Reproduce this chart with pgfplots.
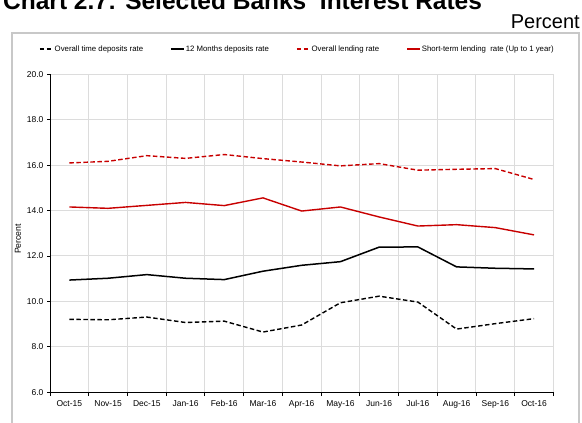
\documentclass[border=0pt]{standalone}
\usepackage{pgfplots}
\pgfplotsset{compat=1.18}
\usepackage{fontspec}
\setmainfont{Liberation Sans}
\definecolor{cbred}{RGB}{200,0,0}
\definecolor{gridgray}{RGB}{220,220,220}
\definecolor{bordergray}{RGB}{200,200,200}
\begin{document}
\begin{tikzpicture}
\path[use as bounding box] (0pt,0pt) rectangle (582pt,423pt);
% title (top cut off, as in the reference)
\node[anchor=base west, inner sep=0pt, font=\fontsize{24.5}{28}\selectfont\bfseries] at (3pt,413pt) {Chart 2.7: Selected Banks' Interest Rates};
\node[anchor=base east, inner sep=0pt, font=\fontsize{20}{24}\selectfont] at (580pt,394pt) {Percent};
% chart area border
\draw[bordergray, line width=1.2pt] (12pt,-5pt) -- (12pt,390pt) -- (579pt,390pt) -- (579pt,-5pt);
% y label
\node[rotate=90, inner sep=0pt, font=\fontsize{8.7}{10}\selectfont] at (18pt,184pt) {Percent};
\begin{axis}[
  at={(50pt,30.8pt)}, anchor=south west,
  scale only axis, width=503.4pt, height=317.8pt,
  xmin=-0.5, xmax=12.5, ymin=6, ymax=20,
  axis lines=left,
  axis line style={-, black, line width=0.8pt},
  xtick={0,...,12},
  xticklabels={Oct-15,Nov-15,Dec-15,Jan-16,Feb-16,Mar-16,Apr-16,May-16,Jun-16,Jul-16,Aug-16,Sep-16,Oct-16},
  major x tick style={draw=none},
  minor xtick={-0.5,0.5,...,12.5},
  minor x tick style={black, line width=0.8pt},
  minor tick length=4pt,
  xminorgrids=true,
  minor x grid style={gridgray, line width=1pt},
  ytick={6,8,...,20},
  ymajorgrids=true,
  major y grid style={gridgray, line width=1pt},
  y tick style={black, line width=0.8pt},
  major tick length=3pt,
  tick align=outside,
  yticklabel style={/pgf/number format/.cd, fixed, fixed zerofill, precision=1},
  /pgf/number format/assume math mode=true,
  ticklabel style={font=\fontsize{8.5}{10}\selectfont},
  xticklabel style={yshift=-2pt},
  legend columns=4,
  legend style={draw=none, fill=none, inner sep=0pt,
    at={(axis description cs:-0.022,1.08)}, anchor=west,
    font=\fontsize{7.8}{10}\selectfont,
    nodes={inner sep=1pt},
    /tikz/every even column/.append style={column sep=26pt}},
  legend image code/.code={\draw[#1, line width=1.6pt] (0pt,0pt) -- (13pt,0pt);},
  clip=false,
]
\addplot[black, line width=1.4pt, dash pattern=on 4.5pt off 2.5pt] coordinates {
(0,9.21) (1,9.19) (2,9.31) (3,9.07) (4,9.13) (5,8.65) (6,8.96) (7,9.94) (8,10.23) (9,9.97) (10,8.78) (11,9.02) (12,9.24)};
\addlegendentry{Overall time deposits rate}
\addplot[black, line width=1.5pt] coordinates {
(0,10.94) (1,11.02) (2,11.18) (3,11.02) (4,10.96) (5,11.33) (6,11.59) (7,11.75) (8,12.39) (9,12.40) (10,11.52) (11,11.46) (12,11.43)};
\addlegendentry{12 Months deposits rate}
\addplot[cbred, line width=1.4pt, dash pattern=on 4.5pt off 2.5pt] coordinates {
(0,16.10) (1,16.17) (2,16.42) (3,16.30) (4,16.47) (5,16.29) (6,16.14) (7,15.97) (8,16.07) (9,15.78) (10,15.82) (11,15.85) (12,15.37)};
\addlegendentry{Overall lending rate}
\addplot[cbred, line width=1.4pt] coordinates {
(0,14.16) (1,14.10) (2,14.23) (3,14.36) (4,14.22) (5,14.56) (6,13.98) (7,14.16) (8,13.72) (9,13.32) (10,13.38) (11,13.25) (12,12.93)};
\addlegendentry{Short-term lending\ \ rate (Up to 1 year)}
\end{axis}
\end{tikzpicture}
\end{document}
